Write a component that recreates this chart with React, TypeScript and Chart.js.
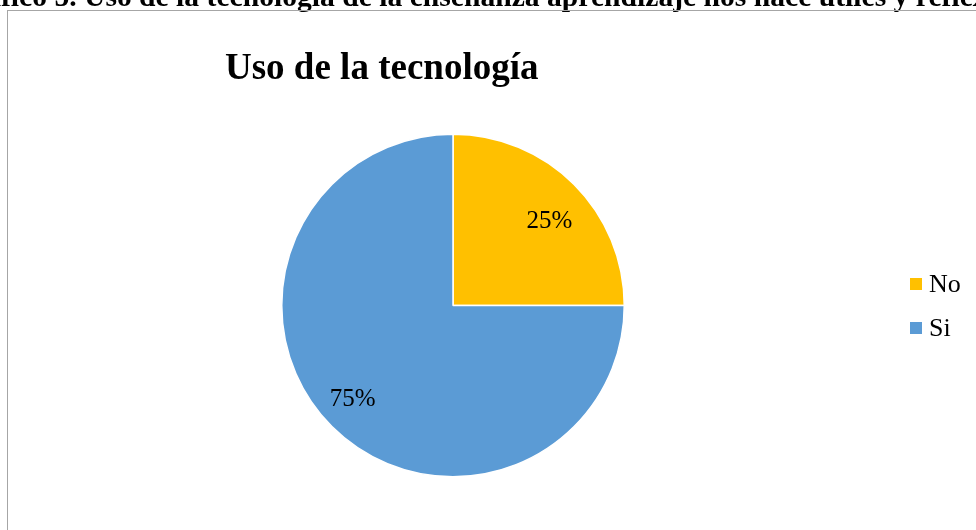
import React, { useEffect, useRef } from "react";
import { Chart, registerables } from "chart.js";

Chart.register(...registerables);

const categories = ["No", "Si"];
const values = [25, 75];
const percentLabels = ["25%", "75%"];
const sliceColors = ["#FFC000", "#5B9BD5"];
const chartTitle = "Uso de la tecnología";
const captionText =
  "Gráfico 5. Uso de la tecnología de la enseñanza aprendizaje nos hace útiles y reflexivos";
const captionPrefix = "Gráfico 5. ";
const captionVisible =
  "Uso de la tecnología de la enseñanza aprendizaje nos hace útiles y refle";

const SERIF = "'Liberation Serif', 'Times New Roman', serif";

const decorPlugin = {
  id: "decor",
  afterDraw(chart: any) {
    const ctx = chart.ctx as CanvasRenderingContext2D;
    ctx.save();

    // caption (cut off at the top of the page)
    ctx.font = `bold 100px ${SERIF}`;
    const wVis = ctx.measureText(captionVisible).width;
    const capSize = (100 * 889) / wVis;
    ctx.font = `bold ${capSize}px ${SERIF}`;
    const preW = ctx.measureText(captionPrefix).width;
    ctx.fillStyle = "#000";
    ctx.textAlign = "left";
    ctx.textBaseline = "alphabetic";
    ctx.fillText(captionText, 84 - preW, 5.5);

    // chart frame
    ctx.strokeStyle = "#a6a6a6";
    ctx.lineWidth = 1;
    ctx.strokeRect(7.5, 10.5, 1200, 800);

    // title
    ctx.font = `bold 37px ${SERIF}`;
    ctx.fillStyle = "#000";
    ctx.fillText(chartTitle, 225, 79);

    // data labels
    const meta = chart.getDatasetMeta(0);
    ctx.font = `25px ${SERIF}`;
    ctx.textAlign = "center";
    ctx.textBaseline = "middle";
    meta.data.forEach((arc: any, i: number) => {
      const { x, y, startAngle, endAngle, outerRadius } = arc.getProps(
        ["x", "y", "startAngle", "endAngle", "outerRadius"],
        true
      );
      const mid = (startAngle + endAngle) / 2 + (2.8 * Math.PI) / 180;
      const r = outerRadius * 0.775;
      ctx.fillText(percentLabels[i], x + Math.cos(mid) * r - 2, y + Math.sin(mid) * r + 5);
    });

    // legend
    ctx.font = `26px ${SERIF}`;
    ctx.textAlign = "left";
    ctx.textBaseline = "middle";
    categories.forEach((c, i) => {
      const cy = 284 + i * 44;
      ctx.fillStyle = sliceColors[i];
      ctx.fillRect(910, cy - 6, 12, 12);
      ctx.fillStyle = "#000";
      ctx.fillText(c, 929, cy + 1);
    });

    ctx.restore();
  },
};

export default function App() {
  const ref = useRef<HTMLCanvasElement | null>(null);

  useEffect(() => {
    document.body.style.margin = "0";
    const canvas = ref.current!;
    const chart = new Chart(canvas, {
      type: "pie",
      data: {
        labels: categories,
        datasets: [
          {
            data: values,
            backgroundColor: sliceColors,
            borderColor: "#ffffff",
            borderWidth: 1.5,
          },
        ],
      },
      options: {
        responsive: false,
        animation: false,
        devicePixelRatio: 1,
        layout: { padding: { left: 281, right: 351, top: 133.5, bottom: 52.5 } },
        plugins: {
          legend: { display: false },
          title: { display: false },
          tooltip: { enabled: false },
        },
      },
      plugins: [decorPlugin],
    });
    return () => chart.destroy();
  }, []);

  return (
    <div style={{ position: "fixed", left: 0, top: 0, width: 976, height: 530, background: "#fff" }}>
      <canvas ref={ref} width={976} height={530} style={{ display: "block" }} />
    </div>
  );
}
